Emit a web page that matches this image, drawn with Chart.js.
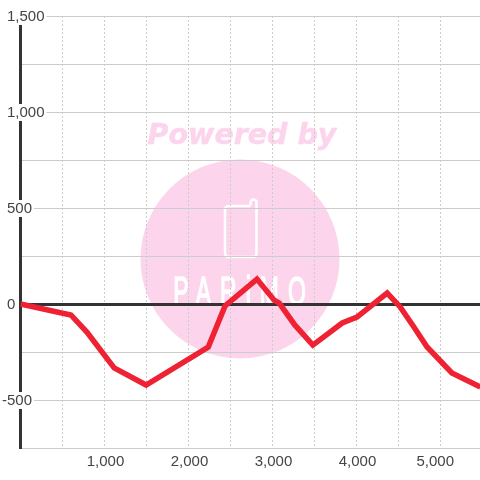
<!DOCTYPE html>
<html>
<head>
<meta charset="utf-8">
<title>Chart</title>
<script src="https://cdn.jsdelivr.net/npm/chart.js@4"></script>
<style>
  html, body { margin: 0; padding: 0; background: #fff; }
  #wrap { width: 480px; height: 480px; }
</style>
</head>
<body>
<div id="wrap"><canvas id="chart" width="480" height="480"></canvas></div>
<script>
const xValues = [0, 600, 790, 1115, 1495, 2235, 2435, 2815, 3020, 3080, 3265, 3480, 3830, 4005, 4365, 4520, 4675, 4840, 5135, 5475];
const yValues = [0, -57, -146, -333, -422, -224, -10, 130, 20, 5, -109, -214, -99, -68, 57, -15, -115, -224, -359, -432];
const yTickLabels = [1500, 1000, 500, 0, -500];
const xTickLabels = [1000, 2000, 3000, 4000, 5000];

const DARK = '#333333';
const GRID = '#cccccc';
const TEXT = '#444444';
const RED = '#ee2233';
const PINK = '#fcd5ec';

// Pink logo sits behind the grid
const watermark = {
    id: 'watermark',
    beforeDraw(chart) {
        const c = chart.ctx;
        c.save();
        c.fillStyle = '#ffffff';
        c.fillRect(0, 0, 480, 480);

        c.fillStyle = PINK;
        c.strokeStyle = PINK;
        c.lineWidth = 0.5;
        c.font = 'italic bold 28.5px "DejaVu Sans"';
        c.textAlign = 'center';
        c.textBaseline = 'alphabetic';
        c.fillText('Powered by', 242, 144);
        c.strokeText('Powered by', 242, 144);

        c.beginPath();
        c.arc(240, 259, 99.5, 0, Math.PI * 2);
        c.fill();

        // phone outline
        c.strokeStyle = '#ffffff';
        c.lineWidth = 2.5;
        c.lineJoin = 'round';
        c.beginPath();
        c.moveTo(250, 206);
        c.lineTo(229, 206);
        c.quadraticCurveTo(225, 206, 225, 210);
        c.lineTo(225, 253);
        c.quadraticCurveTo(225, 257, 229, 257);
        c.lineTo(253, 257);
        c.quadraticCurveTo(256.5, 257, 256.5, 253);
        c.lineTo(256.5, 201);
        c.quadraticCurveTo(253, 198, 251, 201);
        c.lineTo(250, 206);
        c.stroke();

        // stretched brand name
        c.save();
        c.fillStyle = '#ffffff';
        c.strokeStyle = '#ffffff';
        c.lineWidth = 0.8;
        c.translate(240, 305);
        c.scale(1, 1.75);
        c.font = '23px "Liberation Sans"';
        c.textAlign = 'center';
        c.letterSpacing = '9px';
        c.fillText('PARiMO', 4, 0);
        c.strokeText('PARiMO', 4, 0);
        c.restore();
        c.restore();
    }
};

// Y labels sit on the axis with a white patch behind them
const yLabels = {
    id: 'yLabels',
    beforeDatasetsDraw(chart) {
        const c = chart.ctx;
        const scale = chart.scales.y;
        c.save();
        c.font = '15px "Liberation Sans"';
        c.textBaseline = 'middle';
        c.textAlign = 'left';
        yTickLabels.forEach(v => {
            const y = scale.getPixelForValue(v);
            const text = v.toLocaleString('en-US');
            const x = v < 0 ? 2 : 7;
            const w = c.measureText(text).width;
            c.fillStyle = '#ffffff';
            c.fillRect(x - 1, y - 8, w + 3, 17);
            c.fillStyle = TEXT;
            c.fillText(text, x, y + 1);
        });
        c.restore();
    }
};

new Chart(document.getElementById('chart').getContext('2d'), {
    type: 'line',
    data: {
        datasets: [{
            data: xValues.map((x, i) => ({ x: x, y: yValues[i] })),
            borderColor: RED,
            borderWidth: 5.5,
            pointRadius: 0,
            tension: 0,
            fill: false
        }]
    },
    options: {
        responsive: false,
        animation: false,
        layout: { padding: { top: 16 } },
        plugins: { legend: { display: false }, tooltip: { enabled: false } },
        scales: {
            x: {
                type: 'linear',
                min: 0,
                max: 5470,
                afterBuildTicks(scale) {
                    const ticks = [];
                    for (let v = 0; v <= scale.max; v += 500) ticks.push({ value: v });
                    scale.ticks = ticks;
                },
                afterFit(scale) { scale.height = 32; },
                grid: { color: GRID, lineWidth: 1, drawTicks: false },
                border: { display: false, dash: [2, 2] },
                ticks: {
                    color: TEXT,
                    font: { family: 'Liberation Sans', size: 15 },
                    padding: 5,
                    labelOffset: 1,
                    maxRotation: 0,
                    autoSkip: false,
                    // the last label sits a little left of its gridline
                    callback: v => {
                        if (!xTickLabels.includes(v)) return '';
                        const text = v.toLocaleString('en-US');
                        return v === 5000 ? text + '\u00a0\u00a0\u00a0' : text;
                    }
                }
            },
            y: {
                type: 'linear',
                min: -750,
                max: 1500,
                afterFit(scale) { scale.width = 20.5; },
                grid: {
                    drawTicks: false,
                    color: ctx => ctx.tick && ctx.tick.value === 0 ? DARK : GRID,
                    lineWidth: ctx => ctx.tick && ctx.tick.value === 0 ? 3 : 1
                },
                border: { display: true, color: DARK, width: 3 },
                ticks: { stepSize: 250, display: false }
            }
        }
    },
    plugins: [watermark, yLabels]
});
</script>
</body>
</html>
